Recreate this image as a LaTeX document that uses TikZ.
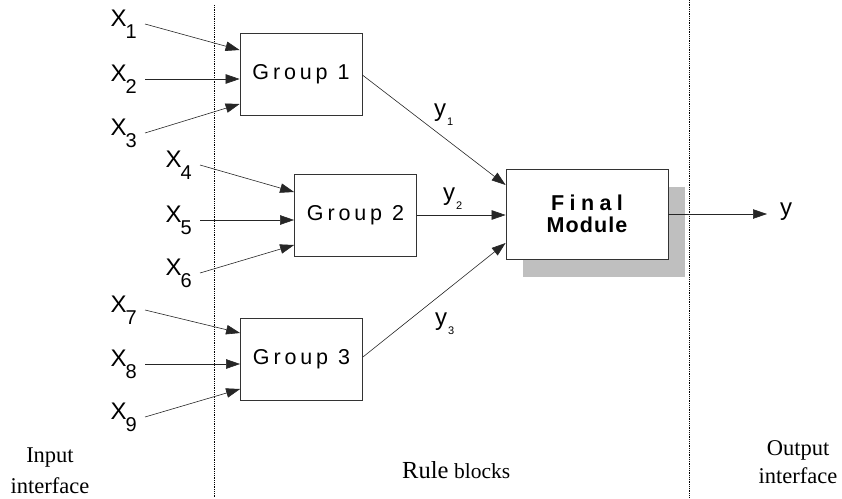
\documentclass[tikz,border=0pt]{standalone}
\usepackage{fontspec}
\setmainfont{Liberation Sans}
\newfontfamily\labelserif{Liberation Serif}
\usetikzlibrary{arrows.meta,shadows,calc}

% input variable X_i with a deep subscript
\newcommand\xvar[1]{{\fontsize{24}{24}\selectfont X}\kern-1pt\raisebox{-12pt}{\fontsize{20}{20}\selectfont #1}}
% output variable y_i with a small subscript
\newcommand\yvar[1]{{\fontsize{24}{24}\selectfont y}\kern1pt\raisebox{-9pt}{\fontsize{11}{11}\selectfont #1}}

\begin{document}
\begin{tikzpicture}[x=1pt,y=-1pt,
  block/.style={draw=black!80, line width=0.8pt, fill=white, inner sep=0pt,
    minimum width=122pt, minimum height=82pt,
    font=\fontsize{21.5}{21.5}\selectfont\addfontfeature{LetterSpace=18}},
  finalbox/.style={draw=black!80, line width=0.8pt, fill=white, inner sep=0pt,
    minimum width=162pt, minimum height=90pt, align=center,
    drop shadow={shadow xshift=17pt, shadow yshift=-18pt, fill=black!25, opacity=1}},
  inlabel/.style={anchor=east, inner xsep=8pt, inner ysep=0pt},
  outlabel/.style={anchor=base west, inner sep=0pt},
  arr/.style={draw=black!85, line width=0.6pt, -{Triangle[length=14pt,width=9.5pt]}},
  divider/.style={densely dotted, line width=0.8pt},
  caption/.style={font=\labelserif\fontsize{22.5}{22.5}\selectfont, inner sep=0pt, anchor=base}
]
\useasboundingbox (0,0) rectangle (842,498);

% interface dividers
\draw[divider] (214,5) -- (214,498);
\draw[divider] (689,0) -- (689,498);

% rule blocks
\node[block] (g1) at (301,74) {Group 1};
\node[block] (g2) at (355.5,215) {Group 2};
\node[block] (g3) at (301.5,359) {Group 3};
\node[finalbox] (fm) at (587,214)
  {{\fontsize{21.5}{21.5}\selectfont\bfseries\addfontfeature{LetterSpace=25}Final}\\[5pt]
   {\fontsize{21.5}{21.5}\selectfont\bfseries\addfontfeature{LetterSpace=5}Module}};

% inputs
\node[inlabel] (x1) at (145,24)  {\xvar{1}};
\node[inlabel] (x2) at (145,79)  {\xvar{2}};
\node[inlabel] (x3) at (145,133) {\xvar{3}};
\node[inlabel] (x4) at (200,165) {\xvar{4}};
\node[inlabel] (x5) at (200,220) {\xvar{5}};
\node[inlabel] (x6) at (200,273) {\xvar{6}};
\node[inlabel] (x7) at (145,310) {\xvar{7}};
\node[inlabel] (x8) at (145,364) {\xvar{8}};
\node[inlabel] (x9) at (145,417) {\xvar{9}};

\draw[arr] (x1.east) -- ($(g1.west)+(0,-24)$);
\draw[arr] (x2.east) -- ($(g1.west)+(0,5)$);
\draw[arr] (x3.east) -- ($(g1.west)+(0,30)$);
\draw[arr] (x4.east) -- ($(g2.west)+(0,-23)$);
\draw[arr] (x5.east) -- ($(g2.west)+(0,5)$);
\draw[arr] (x6.east) -- ($(g2.west)+(0,30)$);
\draw[arr] (x7.east) -- ($(g3.west)+(0,-26)$);
\draw[arr] (x8.east) -- ($(g3.west)+(0,5)$);
\draw[arr] (x9.east) -- ($(g3.west)+(0,30)$);

% block outputs into the final module
\draw[arr] ($(g1.east)+(0,1)$) -- ($(fm.west)+(0,-29)$);
\draw[arr] (g2.east) -- (g2.east -| fm.west);
\draw[arr] ($(g3.east)+(0,-2)$) -- ($(fm.west)+(0,29)$);
\node[outlabel] (y1) at (434,116) {\yvar{1}};
\node[outlabel] (y2) at (443,200) {\yvar{2}};
\node[outlabel] (y3) at (435,325) {\yvar{3}};

% system output
\coordinate (yend) at (767,214);
\draw[arr] (fm.east) -- (yend);
\node[outlabel] (yout) at (780,215) {\fontsize{24}{24}\selectfont y};

% region captions
\node[caption] (in1) at (50,462) {Input};
\node[caption] (in2) at (50,493) {interface};
\node[caption, anchor=base west] (rb) at (402,478)
  {{\fontsize{24.5}{24.5}\selectfont Rule} \fontsize{21.5}{21.5}\selectfont blocks};
\node[caption] (out1) at (798,455) {Output};
\node[caption] (out2) at (798,483) {interface};
\end{tikzpicture}
\end{document}
